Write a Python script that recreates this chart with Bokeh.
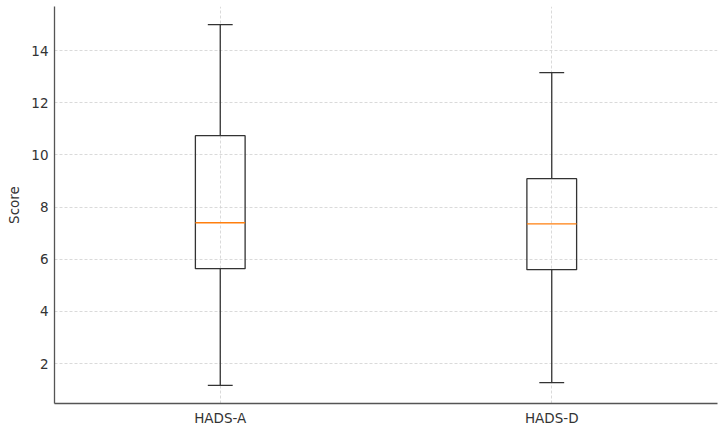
from bokeh.plotting import figure
from bokeh.models import ColumnDataSource, Range1d, FixedTicker
from bokeh.embed import file_html
from bokeh.resources import INLINE

categories = ["HADS-A", "HADS-D"]
whisker_low = [1.16, 1.27]
q1 = [5.64, 5.60]
median = [7.40, 7.36]
q3 = [10.74, 9.09]
whisker_high = [15.0, 13.16]
y_ticks = [2, 4, 6, 8, 10, 12, 14]

pos = [i + 1 for i in range(len(categories))]
box_w = 0.15
cap_w = 0.075

src = ColumnDataSource(dict(
    x=pos,
    x0=[p_ - box_w / 2 for p_ in pos],
    x1=[p_ + box_w / 2 for p_ in pos],
    c0=[p_ - cap_w / 2 for p_ in pos],
    c1=[p_ + cap_w / 2 for p_ in pos],
    lo=whisker_low, q1=q1, med=median, q3=q3, hi=whisker_high,
))

span = max(whisker_high) - min(whisker_low)
p = figure(width=723, height=428,
           x_range=Range1d(0.5, len(categories) + 0.5),
           y_range=Range1d(min(whisker_low) - 0.05 * span, max(whisker_high) + 0.05 * span),
           output_backend="svg", toolbar_location=None,
           min_border_left=54, min_border_top=6, min_border_right=6, min_border_bottom=25)
p.outline_line_color = None

box_col = "#333333"
p.segment(x0="x", y0="q3", x1="x", y1="hi", source=src, line_color=box_col, line_width=1.3)
p.segment(x0="x", y0="lo", x1="x", y1="q1", source=src, line_color=box_col, line_width=1.3)
p.segment(x0="c0", y0="hi", x1="c1", y1="hi", source=src, line_color=box_col, line_width=1.3)
p.segment(x0="c0", y0="lo", x1="c1", y1="lo", source=src, line_color=box_col, line_width=1.3)
p.quad(left="x0", right="x1", bottom="q1", top="q3", source=src,
       fill_color=None, line_color=box_col, line_width=1.3)
p.segment(x0="x0", y0="med", x1="x1", y1="med", source=src, line_color="#ff7f0e", line_width=1.3)

p.xaxis.ticker = FixedTicker(ticks=pos)
p.xaxis.major_label_overrides = {p_: c for p_, c in zip(pos, categories)}
p.yaxis.ticker = FixedTicker(ticks=y_ticks)
p.yaxis.axis_label = "Score"

for ax in (p.xaxis[0], p.yaxis[0]):
    ax.axis_line_color = "#555555"
    ax.axis_line_width = 1.3
    ax.major_tick_line_color = None
    ax.minor_tick_line_color = None
    ax.major_tick_out = 0
    ax.major_tick_in = 0
    ax.minor_tick_out = 0
    ax.major_label_text_font = "DejaVu Sans"
    ax.major_label_text_font_size = "13.5px"
    ax.major_label_text_color = "#333333"
    ax.axis_label_text_font = "DejaVu Sans"
    ax.axis_label_text_font_size = "13.5px"
    ax.axis_label_text_font_style = "normal"
    ax.axis_label_text_color = "#333333"
    ax.major_label_standoff = 6

p.yaxis.axis_label_standoff = 6

for g in (p.xgrid[0], p.ygrid[0]):
    g.grid_line_color = "#d0d0d0"
    g.grid_line_dash = "3 2"
    g.grid_line_width = 0.8

open("out.html", "w").write(file_html(p, INLINE))
